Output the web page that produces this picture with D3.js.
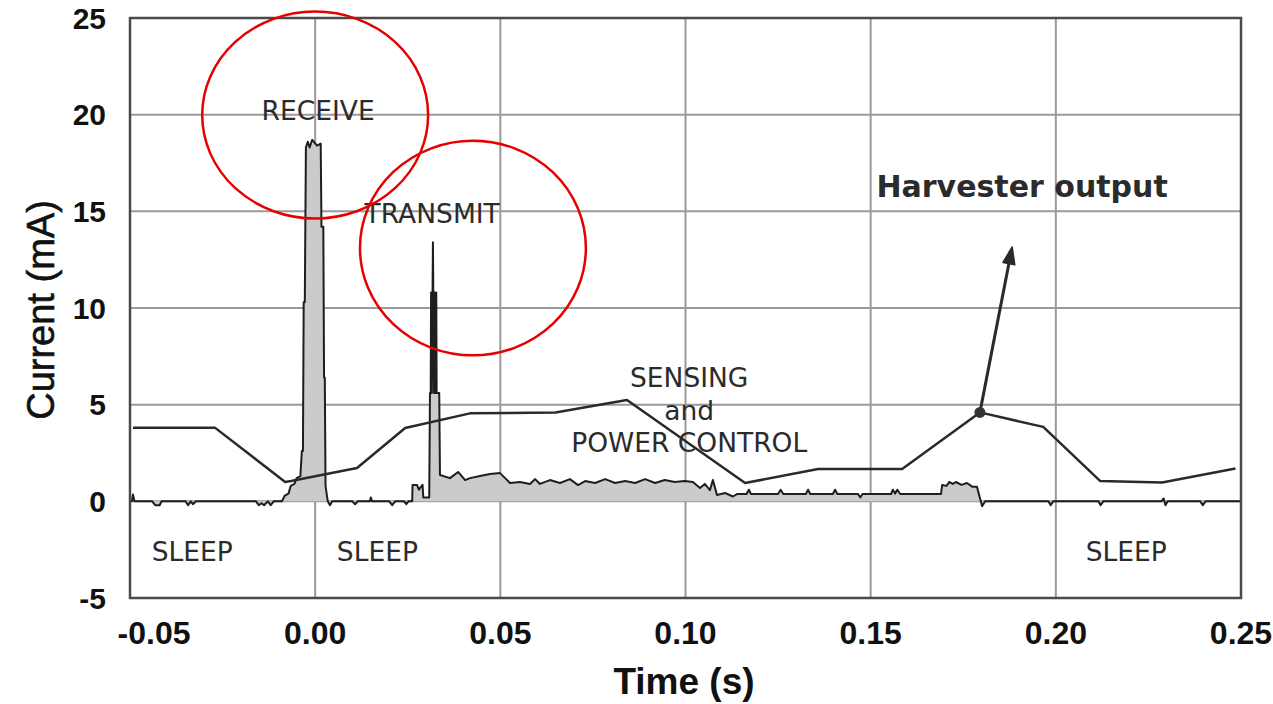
<!DOCTYPE html>
<html>
<head>
<meta charset="utf-8">
<script src="https://cdn.jsdelivr.net/npm/d3@7"></script>
<style>
  body { margin: 0; background: #fff; }
  svg { display: block; }
</style>
</head>
<body>
<svg></svg>
<script>
// tick values and labels
var xTicks = [-0.05, 0.00, 0.05, 0.10, 0.15, 0.20, 0.25];
var xTickLabels = ["-0.05", "0.00", "0.05", "0.10", "0.15", "0.20", "0.25"];
var yTicks = [-5, 0, 5, 10, 15, 20, 25];

// harvester output (mA) vs time (s)
var harvesterPoints = [
  [-0.0492, 3.8], [-0.0270, 3.8], [-0.0081, 1.0], [-0.0065, 1.05],
  [0.0113, 1.72], [0.0243, 3.79], [0.0418, 4.55], [0.0649, 4.6],
  [0.0842, 5.24], [0.1161, 0.95], [0.1358, 1.67], [0.1585, 1.67],
  [0.1795, 4.6], [0.1966, 3.85], [0.2120, 1.05], [0.2287, 0.97],
  [0.2485, 1.7]
];

// node current consumption trace (mA) vs time (s)
var currentTrace = [
  [-0.0500, 0.0], [-0.0495, 0.0], [-0.0492, 0.35], [-0.0488, 0.0],
  [-0.0440, 0.0], [-0.0432, -0.2], [-0.0420, -0.2], [-0.0415, 0.0],
  [-0.0350, 0.0], [-0.0343, -0.2], [-0.0336, 0.0], [-0.0330, -0.15], [-0.0322, 0.0],
  [-0.0160, 0.0], [-0.0152, -0.2], [-0.0145, -0.1], [-0.0138, -0.2], [-0.0128, 0.0],
  [-0.0120, -0.2], [-0.0112, 0.0], [-0.0090, 0.0], [-0.0082, 0.3], [-0.0072, 0.4],
  [-0.0066, 0.8], [-0.0056, 0.9], [-0.0050, 1.2], [-0.0040, 1.3], [-0.0036, 2.6],
  [-0.0033, 2.6], [-0.0031, 10.3], [-0.0028, 10.3], [-0.0025, 18.3], [-0.0020, 18.6],
  [-0.0015, 18.3], [-0.0008, 18.7], [0.0005, 18.4], [0.0015, 18.5], [0.0017, 14.2],
  [0.0022, 14.2], [0.0024, 6.4], [0.0026, 6.4], [0.0028, 0.8], [0.0034, 0.0],
  [0.0040, -0.2], [0.0046, 0.0],
  [0.0100, 0.0], [0.0108, -0.15], [0.0115, 0.0], [0.0148, 0.0], [0.0150, 0.2],
  [0.0154, 0.0], [0.0200, 0.0], [0.0208, -0.2], [0.0216, 0.0], [0.0240, 0.0],
  [0.0246, -0.15], [0.0252, 0.0], [0.0262, 0.0],
  [0.0263, 0.85], [0.0275, 0.85], [0.0280, 0.6], [0.0290, 0.85], [0.0292, 0.2],
  [0.0308, 0.2], [0.0310, 5.6], [0.0312, 5.6], [0.0313, 10.8], [0.0315, 5.6],
  [0.0317, 10.8], [0.0318, 13.4], [0.0319, 10.8], [0.0321, 5.6], [0.0323, 10.8],
  [0.0325, 5.6], [0.0327, 10.8], [0.0328, 5.6], [0.0335, 5.6],
  [0.0337, 1.36],
  [0.0364, 1.2], [0.0386, 1.52], [0.0405, 1.1], [0.0418, 1.2], [0.0445, 1.31],
  [0.0472, 1.41], [0.0499, 1.46], [0.0513, 1.2], [0.0526, 0.95], [0.0553, 1.0],
  [0.0580, 0.9], [0.0594, 1.15], [0.0607, 0.9], [0.0634, 1.1], [0.0661, 0.95],
  [0.0688, 1.15], [0.0710, 0.84], [0.0729, 1.05], [0.0756, 0.95], [0.0783, 1.15],
  [0.0810, 0.95], [0.0837, 1.05], [0.0864, 0.95], [0.0891, 1.15], [0.0918, 0.95],
  [0.0944, 1.1], [0.0971, 1.0], [0.0998, 1.05], [0.1020, 1.0], [0.1039, 0.69],
  [0.1052, 0.9], [0.1066, 0.58], [0.1074, 1.1], [0.1085, 0.33],
  [0.1107, 0.43], [0.1128, 0.25], [0.1140, 0.38], [0.1165, 0.38], [0.1171, 0.6],
  [0.1177, 0.38], [0.1250, 0.38], [0.1257, 0.6], [0.1264, 0.38], [0.1325, 0.38],
  [0.1331, 0.6], [0.1337, 0.38], [0.1398, 0.38], [0.1404, 0.6], [0.1410, 0.38],
  [0.1466, 0.38], [0.1472, 0.2], [0.1478, 0.38], [0.1555, 0.38], [0.1560, 0.6],
  [0.1566, 0.4], [0.1572, 0.6], [0.1580, 0.38], [0.1690, 0.38], [0.1693, 0.85],
  [0.1705, 0.8], [0.1712, 1.0], [0.1722, 0.9], [0.1730, 1.0], [0.1745, 0.85],
  [0.1760, 0.95], [0.1775, 0.75], [0.1787, 0.75], [0.1801, -0.25], [0.1809, 0.0],
  [0.1980, 0.0], [0.1986, -0.2], [0.1993, 0.0], [0.2115, 0.0], [0.2121, -0.2],
  [0.2128, 0.0], [0.2285, 0.0], [0.2291, 0.15], [0.2296, -0.2], [0.2302, 0.0],
  [0.2390, 0.0], [0.2397, -0.2], [0.2404, 0.0], [0.2500, 0.0]
];

// text annotations [label, time, current]
var stateLabels = [
  ["RECEIVE", 0.0008, 20.2],
  ["TRANSMIT", 0.0316, 14.9],
  ["SENSING", 0.1010, 6.4],
  ["and", 0.1010, 4.7],
  ["POWER CONTROL", 0.1010, 3.05],
  ["SLEEP", -0.0332, -2.6],
  ["SLEEP", 0.0168, -2.6],
  ["SLEEP", 0.2190, -2.6]
];

// red highlight circles [time, current, radius in s, radius in mA]
var highlightCircles = [
  [0.0000, 19.98, 0.0305, 5.35],
  [0.0426, 13.10, 0.0305, 5.55]
];

// harvester arrow: from marker point to tip
var arrowFrom = [0.1795, 4.6];
var arrowTo = [0.1882, 13.16];

var W = 1273, H = 704;
var plotLeft = 130, plotRight = 1241, plotTop = 18, plotBottom = 598;

var svg = d3.select('svg').attr('width', W).attr('height', H);

var x = d3.scaleLinear().domain([-0.05, 0.25]).range([plotLeft, plotRight]);
var y = d3.scaleLinear().domain([-5, 25]).range([plotBottom, plotTop]);

// grid
svg.append('g').selectAll('line')
  .data(xTicks.slice(1, -1))
  .enter().append('line')
  .attr('x1', d => x(d)).attr('x2', d => x(d))
  .attr('y1', plotTop).attr('y2', plotBottom)
  .attr('stroke', '#9a9a9a').attr('stroke-width', 2);

svg.append('g').selectAll('line')
  .data(yTicks.slice(1, -1))
  .enter().append('line')
  .attr('x1', plotLeft).attr('x2', plotRight)
  .attr('y1', d => y(d)).attr('y2', d => y(d))
  .attr('stroke', '#9a9a9a').attr('stroke-width', 2);

// current trace area + line
var area = d3.area()
  .x(d => x(d[0]))
  .y0(y(0))
  .y1(d => y(d[1]));
svg.append('path')
  .datum(currentTrace)
  .attr('d', area)
  .attr('fill', '#cbcbcb');

var line = d3.line().x(d => x(d[0])).y(d => y(d[1]));
svg.append('path')
  .datum(currentTrace)
  .attr('d', line)
  .attr('fill', 'none')
  .attr('stroke', '#1e1e1e')
  .attr('stroke-width', 2)
  .attr('stroke-linejoin', 'round');

// harvester output
svg.append('path')
  .datum(harvesterPoints)
  .attr('d', line)
  .attr('fill', 'none')
  .attr('stroke', '#2a2a2a')
  .attr('stroke-width', 2.5)
  .attr('stroke-linejoin', 'round');

// arrow from marker
var ax0 = x(arrowFrom[0]), ay0 = y(arrowFrom[1]);
var ax1 = x(arrowTo[0]), ay1 = y(arrowTo[1]);
var ang = Math.atan2(ay1 - ay0, ax1 - ax0);
var headLen = 17, headHalf = 6;
var bx = ax1 - headLen * Math.cos(ang), by = ay1 - headLen * Math.sin(ang);
svg.append('line')
  .attr('x1', ax0).attr('y1', ay0).attr('x2', bx).attr('y2', by)
  .attr('stroke', '#2a2a2a').attr('stroke-width', 3);
svg.append('path')
  .attr('d', 'M' + ax1 + ',' + ay1 +
    'L' + (bx + headHalf * Math.sin(ang)) + ',' + (by - headHalf * Math.cos(ang)) +
    'L' + (bx - headHalf * Math.sin(ang)) + ',' + (by + headHalf * Math.cos(ang)) + 'Z')
  .attr('fill', '#2a2a2a').attr('stroke', '#2a2a2a').attr('stroke-width', 1.5)
  .attr('stroke-linejoin', 'round');
svg.append('circle')
  .attr('cx', ax0).attr('cy', ay0).attr('r', 5.5)
  .attr('fill', '#333');

// frame
svg.append('rect')
  .attr('x', plotLeft).attr('y', plotTop)
  .attr('width', plotRight - plotLeft).attr('height', plotBottom - plotTop)
  .attr('fill', 'none').attr('stroke', '#4a4a4a').attr('stroke-width', 2.5);

// state labels
svg.append('g').selectAll('text')
  .data(stateLabels)
  .enter().append('text')
  .attr('x', d => x(d[1]))
  .attr('y', d => y(d[2]))
  .attr('text-anchor', 'middle')
  .attr('dominant-baseline', 'central')
  .attr('font-family', 'DejaVu Sans, Verdana, sans-serif')
  .attr('font-size', 26.5)
  .attr('fill', '#2b2b2b')
  .text(d => d[0]);

svg.append('text')
  .attr('x', x(0.1909)).attr('y', y(16.3))
  .attr('text-anchor', 'middle')
  .attr('dominant-baseline', 'central')
  .attr('font-family', 'DejaVu Sans, Verdana, sans-serif')
  .attr('font-weight', 'bold')
  .attr('font-size', 30)
  .attr('fill', '#2b2b2b')
  .text('Harvester output');

// red circles
svg.append('g').selectAll('ellipse')
  .data(highlightCircles)
  .enter().append('ellipse')
  .attr('cx', d => x(d[0]))
  .attr('cy', d => y(d[1]))
  .attr('rx', d => x(d[2]) - x(0))
  .attr('ry', d => y(0) - y(d[3]))
  .attr('fill', 'none')
  .attr('stroke', '#e60000')
  .attr('stroke-width', 2.5);

// axis labels
svg.append('g').selectAll('text')
  .data(xTicks)
  .enter().append('text')
  .attr('x', (d, i) => i === 0 ? x(d) + 24 : x(d))
  .attr('y', 644)
  .attr('text-anchor', 'middle')
  .attr('font-family', 'Liberation Sans, Arial, sans-serif')
  .attr('font-weight', 'bold')
  .attr('font-size', 32)
  .attr('fill', '#111')
  .text((d, i) => xTickLabels[i]);

svg.append('g').selectAll('text')
  .data(yTicks)
  .enter().append('text')
  .attr('x', 106)
  .attr('y', d => y(d))
  .attr('text-anchor', 'end')
  .attr('dominant-baseline', 'central')
  .attr('font-family', 'Liberation Sans, Arial, sans-serif')
  .attr('font-weight', 'bold')
  .attr('font-size', 30)
  .attr('fill', '#111')
  .text(d => d);

svg.append('text')
  .attr('x', 684).attr('y', 694)
  .attr('text-anchor', 'middle')
  .attr('font-family', 'Liberation Sans, Arial, sans-serif')
  .attr('font-weight', 'bold')
  .attr('font-size', 37)
  .attr('fill', '#111')
  .text('Time (s)');

svg.append('text')
  .attr('transform', 'translate(54,310) rotate(-90)')
  .attr('text-anchor', 'middle')
  .attr('font-family', 'Liberation Sans, Arial, sans-serif')
  .attr('font-size', 38)
  .attr('fill', '#111')
  .attr('stroke', '#111')
  .attr('stroke-width', 0.6)
  .text('Current (mA)');
</script>
</body>
</html>
